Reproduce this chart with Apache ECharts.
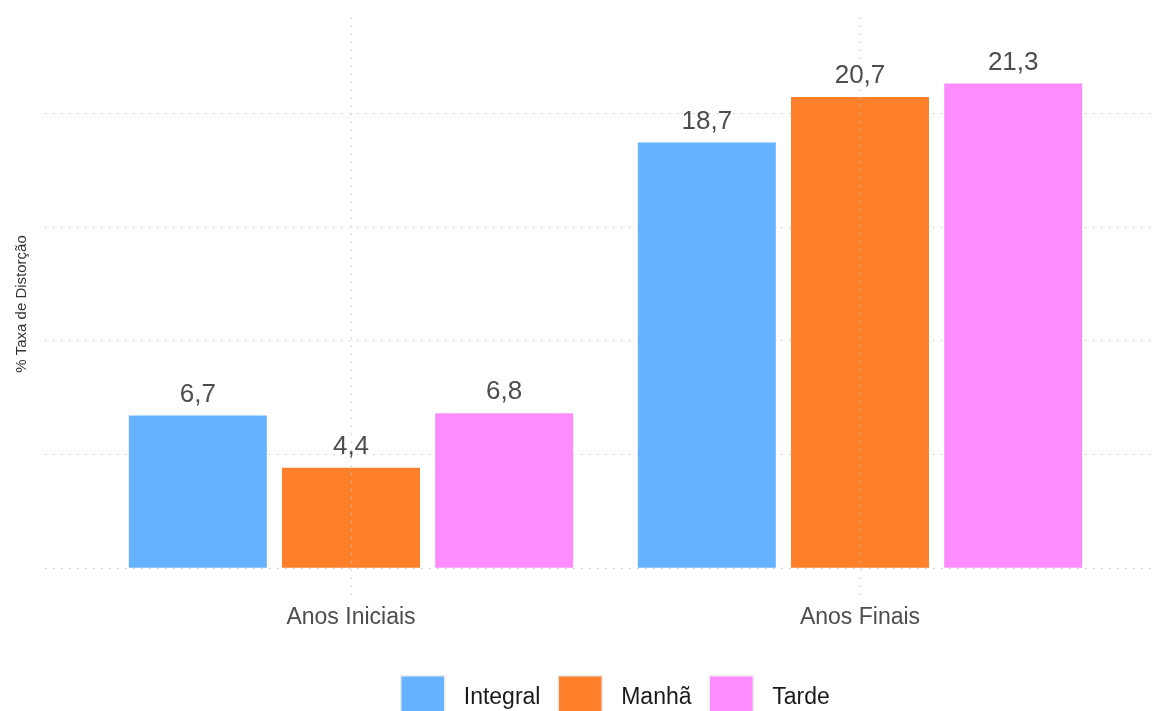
<!DOCTYPE html>
<html><head><meta charset="utf-8">
<script src="https://cdn.jsdelivr.net/npm/echarts@6.0.0/dist/echarts.min.js"></script>
<style>html,body{margin:0;padding:0;background:#fff}#c{width:1157px;height:711px}</style>
</head><body><div id="c"></div>
<script>
const categories = ['Anos Iniciais', 'Anos Finais'];
const seriesNames = ['Integral', 'Manhã', 'Tarde'];
const integral = [6.7, 18.7];
const manha = [4.4, 20.7];
const tarde = [6.8, 21.3];
const yAxisTitle = '% Taxa de Distorção';
const colors = ['#66b2ff', '#ff7f2a', '#ff8cff'];
const values = [integral, manha, tarde];

const font = "'Liberation Sans', Arial, Helvetica, sans-serif";
const dotted = { color: '#c8c8c8', width: 1, type: [1.5, 6.5] };

const chart = echarts.init(document.getElementById('c'), null, { renderer: 'canvas' });

const barSeries = seriesNames.map((n, i) => ({
  name: n,
  type: 'bar',
  xAxisIndex: 1,
  yAxisIndex: 1,
  data: values[i],
  barWidth: 138,
  barGap: '11%',
  z: 2,
  itemStyle: { color: colors[i] },
  label: {
    show: true,
    position: 'top',
    distance: 8,
    fontSize: 26,
    color: '#4d4d4d',
    fontFamily: font,
    formatter: p => String(p.value.toFixed(1)).replace('.', ',')
  }
}));

chart.setOption({
  animation: false,
  color: colors,
  textStyle: { fontFamily: font },
  grid: [
    { left: 45, right: 0, top: 113, bottom: 143 },
    { left: 96.5, right: 42.5, top: 13, bottom: 116 }
  ],
  xAxis: [
    { gridIndex: 0, type: 'value', min: 0, max: 1, show: false },
    {
      gridIndex: 1, type: 'category', data: categories,
      axisLine: { show: false }, axisTick: { show: false }, splitLine: { show: false },
      axisLabel: { fontSize: 23, color: '#4d4d4d', margin: 11, fontFamily: font }
    }
  ],
  yAxis: [
    {
      gridIndex: 0, type: 'value', min: 0, max: 20, interval: 5,
      axisLine: { show: false }, axisTick: { show: false }, axisLabel: { show: false },
      splitLine: { show: true, lineStyle: dotted }
    },
    {
      gridIndex: 1, type: 'value', min: -1.2, max: 24.4,
      axisLine: { show: false }, axisTick: { show: false }, axisLabel: { show: false },
      splitLine: { show: false },
      name: yAxisTitle, nameLocation: 'middle', nameRotate: 90, nameGap: 67,
      nameTextStyle: { fontSize: 15, color: '#333333', fontFamily: font }
    }
  ],
  legend: {
    data: seriesNames,
    left: 395,
    top: 670,
    itemWidth: 44,
    itemHeight: 44,
    itemGap: 17,
    icon: 'rect',
    itemStyle: { borderColor: '#ececec', borderWidth: 1.5 },
    textStyle: { fontSize: 23, color: '#1a1a1a', fontFamily: font, padding: [0, 0, 0, 14] }
  },
  series: [
    { type: 'line', xAxisIndex: 0, yAxisIndex: 0, data: [], silent: true },
    {
      type: 'line', xAxisIndex: 1, yAxisIndex: 1, data: [], silent: true, z: 0,
      markLine: {
        silent: true, symbol: 'none', label: { show: false },
        lineStyle: dotted,
        data: categories.map(c => ({ xAxis: c }))
      }
    }
  ].concat(barSeries)
});
</script></body></html>
